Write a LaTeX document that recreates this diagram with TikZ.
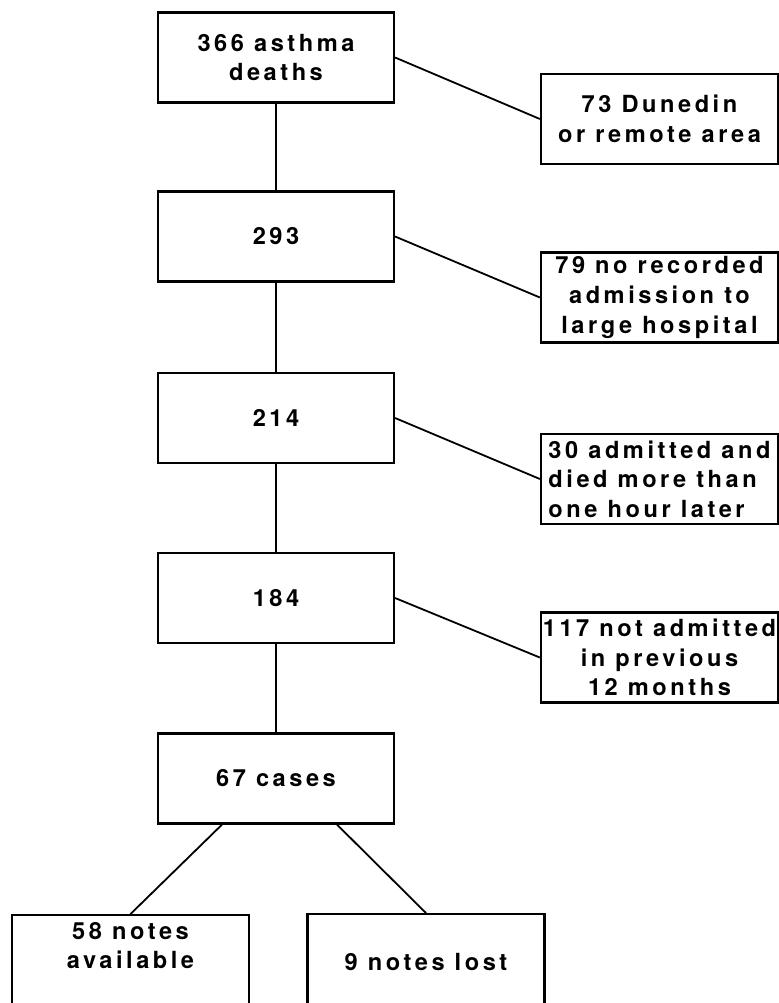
\documentclass[tikz,border=0pt]{standalone}
\usepackage{fontspec}
\newfontfamily\flowfont{TeX Gyre Heros}[LetterSpace=15]
\usepackage{tikz}

\begin{document}
\begin{tikzpicture}[x=0.5pt,y=-0.5pt,
  box/.style={draw,line width=1.1pt,inner sep=1pt,align=center,
    font=\flowfont\bfseries\fontsize{11.8}{14.8}\selectfont},
  stage/.style={box,minimum width=118pt,minimum height=45pt},
  excluded/.style={box,minimum width=118.5pt,minimum height=45pt},
  outcome/.style={box,minimum width=118.5pt,minimum height=48pt},
  link/.style={line width=0.9pt}]
\useasboundingbox (0,0) rectangle (779,1003);
\node[stage] (s366) at (276,57.5) {366 asthma\\deaths};
\node[stage] (s293) at (276,236.5) {293};
\node[stage] (s214) at (276,418) {214};
\node[stage] (s184) at (276,598) {184};
\node[stage] (s67) at (276,778.5) {67 cases};
\node[excluded] (x73) at (659.5,119) {73 Dunedin\\or remote area};
\node[excluded] (x79) at (659.5,297.5) {79 no recorded\\admission to\\large hospital};
\node[excluded,align=left] (x30) at (659.5,479) {30 admitted and\\died more than\\ one hour later};
\node[excluded] (x117) at (659.5,657.5) {117 not admitted\\in previous\\12 months};
\node[outcome,anchor=north] (avail) at (130.5,914) {58 notes\\available\\[3pt]};
\node[outcome,anchor=north] (lost) at (426,913) {9 notes lost};
\draw[link] (s366) -- (s293);
\draw[link] (s293) -- (s214);
\draw[link] (s214) -- (s184);
\draw[link] (s184) -- (s67);
\draw[link] (s366.east) -- (x73.west);
\draw[link] (s293.east) -- (x79.west);
\draw[link] (s214.east) -- (x30.west);
\draw[link] (s184.east) -- (x117.west);
\draw[link] ([xshift=-27pt]s67.south) -- (avail.north);
\draw[link] ([xshift=30.5pt]s67.south) -- (lost.north);
\end{tikzpicture}
\end{document}
